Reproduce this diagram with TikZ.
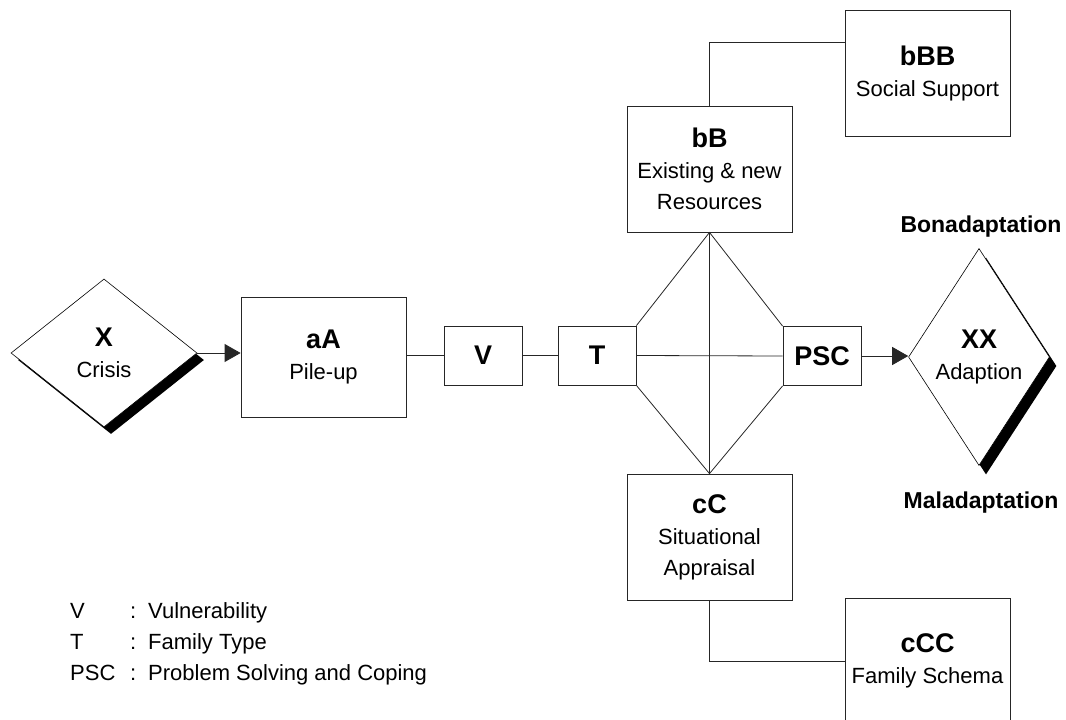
\documentclass[tikz,border=0pt]{standalone}
\usepackage{fontspec}
\setmainfont{Liberation Sans}
\usetikzlibrary{shapes.geometric,shadows,arrows.meta}
\newcommand{\ttl}[1]{{\fontsize{27}{31}\selectfont\bfseries #1}}

\begin{document}
\begin{tikzpicture}[x=1pt,y=-1pt,
	font=\fontsize{22}{31}\selectfont,
	box/.style={draw=black!85, line width=0.8pt, fill=white, align=center, inner sep=0pt, minimum width=165pt, minimum height=126pt},
	smallbox/.style={box, minimum width=78pt, minimum height=59pt},
	crit/.style={diamond, draw, line width=0.6pt, fill=white, align=center, inner sep=0pt},
	link/.style={draw=black!85, line width=0.8pt},
	tip/.style={-{Triangle[length=16pt,width=18pt]}},
	outcome/.style={font=\fontsize{23}{27}\selectfont\bfseries}]
			\useasboundingbox (0,0) rectangle (1066,720);
			%crisis and pile-up
			\node[crit, minimum width=186pt, minimum height=148pt,
				drop shadow={shadow xshift=7pt, shadow yshift=-7pt, fill=black, opacity=1}] (crisis) at (104,353) {\ttl{X}\\Crisis};
			\node[box, minimum height=120pt] (pileup) at (323.5,357) {\ttl{aA}\\Pile-up};
			\node[smallbox] (vul) at (483,355.5) {\ttl{V}};
			\node[smallbox] (ftype) at (597,355.5) {\ttl{T}};
			\node[smallbox] (psc) at (822,356) {\ttl{PSC}};
			%resources and appraisal
			\node[box] (res) at (709.5,169) {\ttl{bB}\\Existing \& new\\Resources};
			\node[box] (social) at (927.5,73) {\ttl{bBB}\\Social Support};
			\node[box] (appr) at (709.5,537) {\ttl{cC}\\Situational\\Appraisal};
			\node[box] (schema) at (927.5,661) {\ttl{cCC}\\Family Schema};
			%adaption
			\node[crit, minimum width=138pt, minimum height=217pt,
				drop shadow={shadow xshift=7pt, shadow yshift=-9pt, fill=black, opacity=1}] (adapt) at (979,357) {\ttl{XX}\\Adaption};
			\node[outcome] (bona) at (981,227) {Bonadaptation};
			\node[outcome] (mala) at (981,503) {Maladaptation};
			%legend
			\node[anchor=west, inner sep=0pt] (legv) at (70,613) {\makebox[60pt][l]{V}\makebox[18pt][l]{:}Vulnerability};
			\node[anchor=west, inner sep=0pt] (legt) at (70,644) {\makebox[60pt][l]{T}\makebox[18pt][l]{:}Family Type};
			\node[anchor=west, inner sep=0pt] (legp) at (70,675) {\makebox[60pt][l]{PSC}\makebox[18pt][l]{:}Problem Solving and Coping};
			%connectors
			\draw[link, tip] (crisis.east) -- (crisis.east -| pileup.west);
			\draw[link] (pileup.east |- vul.west) -- (vul.west);
			\draw[link] (vul.east) -- (ftype.west);
			\draw[link] (ftype.east) -- (psc.west);
			\draw[link, tip] (psc.east) -- (psc.east -| adapt.west);
			\draw[link] (ftype.north east) -- (res.south) -- (psc.north west);
			\draw[link] (ftype.south east) -- (appr.north) -- (psc.south west);
			\draw[link] (res.south) -- (appr.north);
			\draw[link] (res.north) |- ([yshift=31pt]social.west);
			\draw[link] (appr.south) |- (schema.west);
		\end{tikzpicture}
\end{document}
